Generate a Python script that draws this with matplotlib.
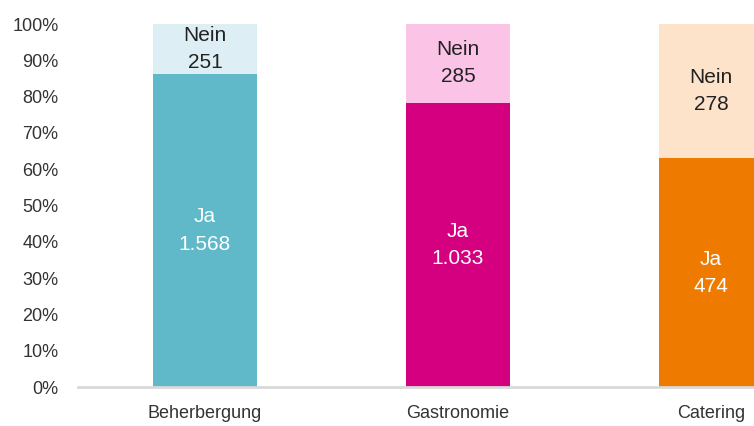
import matplotlib.pyplot as plt
from matplotlib.ticker import PercentFormatter

plt.rcParams['font.family'] = ['Liberation Sans', 'DejaVu Sans']

categories = ["Beherbergung", "Gastronomie", "Catering"]
ja = [1568, 1033, 474]
nein = [251, 285, 278]
ja_colors = ["#5FB9C9", "#D5007F", "#EE7B00"]
nein_colors = ["#DDEFF4", "#FBC3E6", "#FDE3CA"]

def fmt(n):
    return f"{n:,}".replace(",", ".")

totals = [a + b for a, b in zip(ja, nein)]
ja_pct = [a / t * 100 for a, t in zip(ja, totals)]
nein_pct = [b / t * 100 for b, t in zip(nein, totals)]

fig = plt.figure(figsize=(7.54, 4.26), dpi=100)
ax = fig.add_axes([0.1034, 0.0915, 0.8966, 0.852])

x = range(len(categories))
width = 0.41
ax.bar(x, ja_pct, width=width, color=ja_colors)
ax.bar(x, nein_pct, width=width, bottom=ja_pct, color=nein_colors)

for i in x:
    ax.text(i, ja_pct[i] / 2, f"Ja\n{fmt(ja[i])}", ha="center", va="center",
            color="white", fontsize=15, linespacing=1.55)
    ax.text(i, ja_pct[i] + nein_pct[i] / 2, f"Nein\n{fmt(nein[i])}", ha="center",
            va="center", color="#222222", fontsize=15, linespacing=1.55)

ax.set_xlim(-0.502, 2.17)
ax.set_ylim(0, 100)
ax.set_yticks(range(0, 101, 10))
ax.yaxis.set_major_formatter(PercentFormatter(decimals=0))
ax.set_xticks(list(x))
ax.set_xticklabels(categories)
ax.tick_params(axis="y", length=0, pad=14, labelsize=13, labelcolor="#333333")
ax.tick_params(axis="x", length=0, pad=13, labelsize=13, labelcolor="#333333")

for side in ["top", "right", "left"]:
    ax.spines[side].set_visible(False)
ax.spines["bottom"].set_color("#D9D9D9")
ax.spines["bottom"].set_linewidth(2)

fig.savefig("out.png", dpi=100)
